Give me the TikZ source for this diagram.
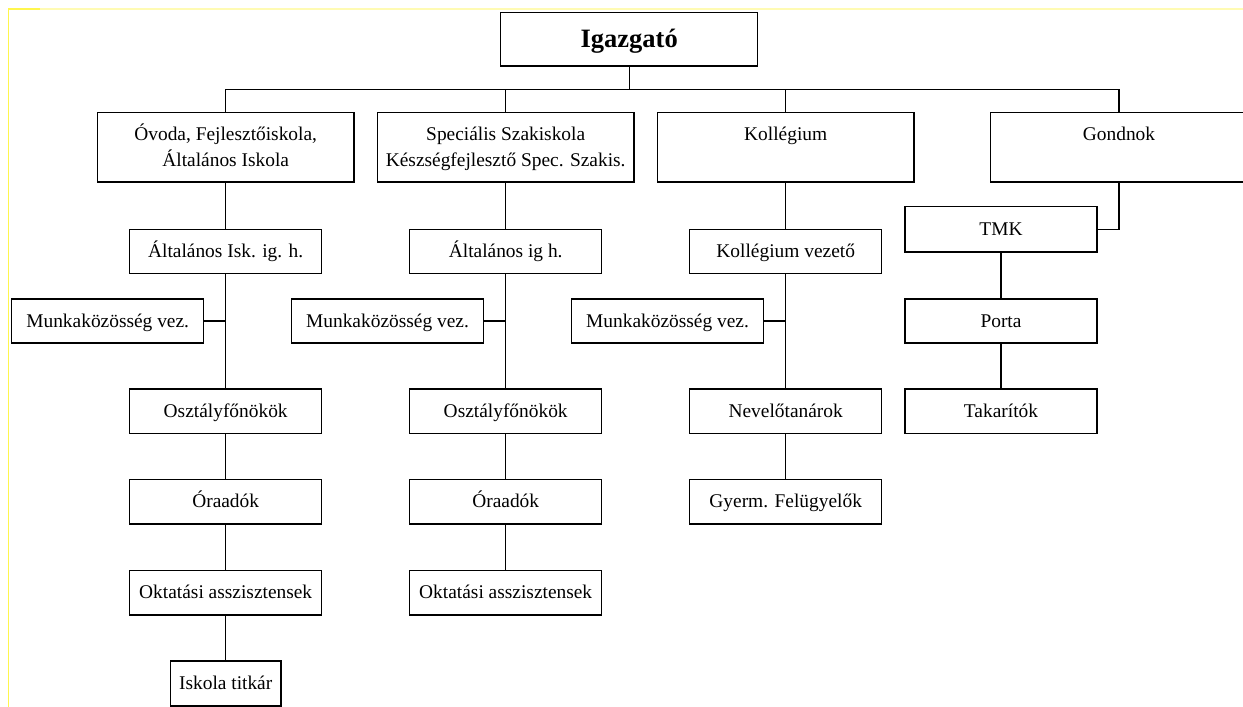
\documentclass[tikz,border=0pt]{standalone}
\usepackage{fontspec}
\setmainfont{Liberation Serif}
\usepackage{tikz}
\usetikzlibrary{calc}
\usetikzlibrary{positioning}

\tikzset{
    box/.style={draw, line width=1.4pt, inner sep=0pt, align=center,
        font=\fontsize{19.4}{25.7}\selectfont, text height=15.5pt, text depth=3.5pt,
        minimum width=192pt, minimum height=44.5pt},
    bigbox/.style={box, text height=41.2pt, minimum width=256.7pt, minimum height=69.3pt},
    wire/.style={line width=1.4pt},
    margin/.style={line width=1.2pt, yellow!70}
}

\begin{document}
\begin{tikzpicture}[x=1pt, y=-1pt]
    \useasboundingbox (0,0) rectangle (1243,707);
    \clip (0,0) rectangle (1243,707);
    % Page margin marks
    \draw[margin] (8.3,707) -- (8.3,9) -- (40,9);
    \draw[margin, yellow!30] (40,9) -- (1243,9);

    % Director
    \node[box, minimum width=257pt, minimum height=53.3pt, text height=20pt, text depth=4pt,
        font=\fontsize{26.5}{30}\selectfont\bfseries] (igazgato) at (629.2,39.3) {Igazgató};
    \coordinate (bus) at (0,89.3);

    % First level
    \node[bigbox] (ovoda) at (225.7,147.3) {Óvoda, Fejlesztőiskola,\\Általános Iskola};
    \node[bigbox] (spec) at (505.7,147.3) {Speciális Szakiskola\\Készségfejlesztő Spec. Szakis.};
    \node[bigbox] (koll) at (785.7,147.3) {Kollégium\\\mbox{}};
    \node[bigbox] (gondnok) at (1119,147.3) {Gondnok\\\mbox{}};

    % Deputies
    \node[box] (iskig) at (225.7,251.5) {Általános Isk. ig. h.};
    \node[box] (altig) at (505.7,251.5) {Általános ig h.};
    \node[box] (kollvez) at (785.7,251.5) {Kollégium vezető};
    \node[box, minimum height=45.3pt] (tmk) at (1001,229.3) {TMK};

    % Work group leaders
    \node[box, minimum height=43.7pt] (munk1) at (107.7,321) {Munkaközösség vez.};
    \node[box, minimum height=43.7pt] (munk2) at (387.5,321) {Munkaközösség vez.};
    \node[box, minimum height=43.7pt] (munk3) at (667.5,321) {Munkaközösség vez.};
    \node[box, minimum height=43.7pt] (porta) at (1001,321) {Porta};

    % Lower rows
    \node[box] (oszt1) at (225.7,411.3) {Osztályfőnökök};
    \node[box] (oszt2) at (505.7,411.3) {Osztályfőnökök};
    \node[box] (nevelo) at (785.7,411.3) {Nevelőtanárok};
    \node[box] (takar) at (1001,411.3) {Takarítók};
    \node[box] (ora1) at (225.7,501.7) {Óraadók};
    \node[box] (ora2) at (505.7,501.7) {Óraadók};
    \node[box] (gyerm) at (785.7,501.7) {Gyerm. Felügyelők};
    \node[box] (okt1) at (225.7,592.7) {Oktatási asszisztensek};
    \node[box] (okt2) at (505.7,592.7) {Oktatási asszisztensek};
    \node[box, minimum width=110.7pt, minimum height=45pt] (titkar) at (225.7,683.5) {Iskola titkár};

    % Top bus
    \draw[wire] (igazgato.south) -- (igazgato.south |- bus);
    \draw[wire] (ovoda.north) -- (ovoda.north |- bus) -| (gondnok.north);
    \draw[wire] (spec.north) -- (spec.north |- bus);
    \draw[wire] (koll.north) -- (koll.north |- bus);

    % Columns
    \draw[wire] (ovoda) -- (iskig) -- (oszt1) -- (ora1) -- (okt1) -- (titkar);
    \draw[wire] (spec) -- (altig) -- (oszt2) -- (ora2) -- (okt2);
    \draw[wire] (koll) -- (kollvez) -- (nevelo) -- (gyerm);
    \draw[wire] (gondnok.south) |- (tmk.east);
    \draw[wire] (tmk) -- (porta) -- (takar);

    % Side branches
    \draw[wire] (munk1.east) -- (munk1.east -| iskig);
    \draw[wire] (munk2.east) -- (munk2.east -| altig);
    \draw[wire] (munk3.east) -- (munk3.east -| kollvez);
\end{tikzpicture}
\end{document}
